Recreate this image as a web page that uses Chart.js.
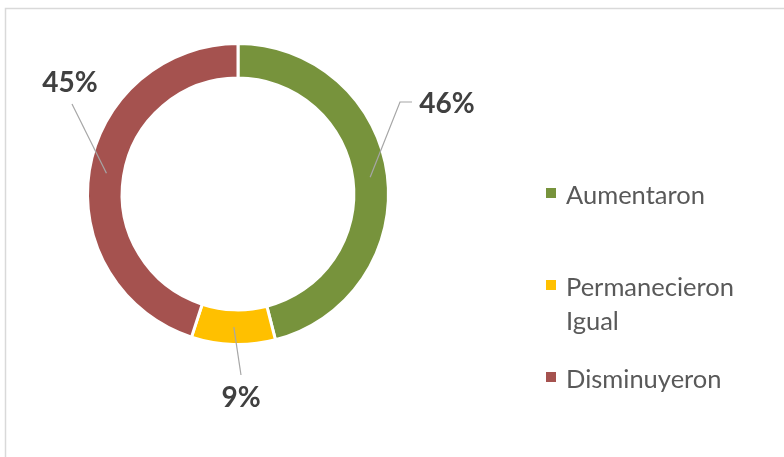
<!DOCTYPE html>
<html>
<head>
<meta charset="utf-8">
<script src="https://cdn.jsdelivr.net/npm/chart.js@4"></script>
<style>
  html, body { margin: 0; padding: 0; background: #fff; }
  #wrap { width: 784px; height: 457px; position: relative; }
</style>
</head>
<body>
<div id="wrap"><canvas id="c" width="784" height="457"></canvas></div>
<script>
const categories = ["Aumentaron", "Permanecieron Igual", "Disminuyeron"];
const values = [46, 9, 45];
const colors = ["#77933c", "#ffc000", "#a5524f"];

// label placement: text centre + leader elbow (pixels)
const labelSpots = [
  { x: 447, y: 104, elbow: [[400, 102], [412, 102]], align: "center" },
  { x: 241, y: 398, elbow: [[241, 375]], align: "center" },
  { x: 70, y: 83, elbow: [[72, 104]], align: "center" }
];

const frame = {
  id: "frame",
  beforeDraw(chart) {
    const ctx = chart.ctx;
    ctx.save();
    ctx.strokeStyle = "#d9d9d9";
    ctx.lineWidth = 1.5;
    ctx.beginPath();
    ctx.moveTo(5.5, chart.height);
    ctx.lineTo(5.5, 8.5);
    ctx.lineTo(chart.width, 8.5);
    ctx.stroke();
    ctx.restore();
  }
};

const leaderLabels = {
  id: "leaderLabels",
  afterDatasetsDraw(chart) {
    const ctx = chart.ctx;
    const meta = chart.getDatasetMeta(0);
    const total = values.reduce((a, b) => a + b, 0);
    ctx.save();
    meta.data.forEach((arc, i) => {
      const p = arc.getProps(["x", "y", "startAngle", "endAngle", "innerRadius", "outerRadius"]);
      const mid = (p.startAngle + p.endAngle) / 2;
      const r = (p.innerRadius + p.outerRadius) / 2;
      const ax = p.x + Math.cos(mid) * r;
      const ay = p.y + Math.sin(mid) * r;
      const spot = labelSpots[i];
      ctx.strokeStyle = "#a6a6a6";
      ctx.lineWidth = 1.2;
      ctx.beginPath();
      ctx.moveTo(ax, ay);
      spot.elbow.forEach(pt => ctx.lineTo(pt[0], pt[1]));
      ctx.stroke();
      ctx.fillStyle = "#404040";
      ctx.font = "bold 28px Lato";
      ctx.textAlign = spot.align;
      ctx.textBaseline = "middle";
      ctx.fillText(Math.round(values[i] / total * 100) + "%", spot.x, spot.y);
    });
    ctx.restore();
  }
};

const sideLegend = {
  id: "sideLegend",
  afterDraw(chart) {
    const ctx = chart.ctx;
    const baselines = [204, 296, 388];
    const lineH = 34;
    ctx.save();
    ctx.font = "25.5px Lato";
    ctx.textBaseline = "alphabetic";
    ctx.textAlign = "left";
    chart.data.labels.forEach((lab, i) => {
      // wrap long labels
      const words = lab.split(" ");
      const lines = [];
      let cur = "";
      words.forEach(w => {
        const t = cur ? cur + " " + w : w;
        if (ctx.measureText(t).width > 200 && cur) { lines.push(cur); cur = w; }
        else cur = t;
      });
      lines.push(cur);
      const by = baselines[i];
      ctx.fillStyle = chart.data.datasets[0].backgroundColor[i];
      ctx.fillRect(546, by - 16, 10, 10);
      ctx.fillStyle = "#595959";
      lines.forEach((ln, k) => ctx.fillText(ln, 566, by + k * lineH));
    });
    ctx.restore();
  }
};

new Chart(document.getElementById("c"), {
  type: "doughnut",
  data: {
    labels: categories,
    datasets: [{
      data: values,
      backgroundColor: colors,
      borderColor: "#ffffff",
      borderWidth: 3,
      hoverOffset: 0
    }]
  },
  options: {
    responsive: false,
    animation: false,
    cutout: "77%",
    layout: { padding: { left: 86, right: 394, top: 42, bottom: 111 } },
    plugins: {
      legend: { display: false },
      tooltip: { enabled: false }
    }
  },
  plugins: [frame, leaderLabels, sideLegend]
});
</script>
</body>
</html>
